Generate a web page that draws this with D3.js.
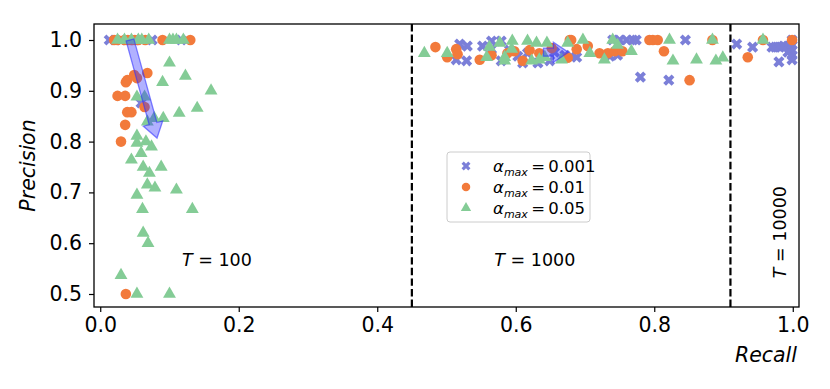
<!DOCTYPE html>
<html>
<head>
<meta charset="utf-8">
<script src="https://cdn.jsdelivr.net/npm/d3@7"></script>
<style>
  body { margin: 0; background: #fff; }
  svg text { font-family: "DejaVu Sans", sans-serif; fill: #000; }
</style>
</head>
<body>
<div id="chart"></div>
<script>
// recall / precision pairs per alpha_max
const blueX = [0.013,0.03,0.05,0.075,0.117,0.059,
  0.519,0.53,0.514,0.529,0.552,0.565,0.565,0.579,0.579,0.591,0.603,0.61,0.617,0.632,0.649,0.656,0.671,
  0.68,0.688,0.736,0.747,0.74,0.75,0.76,0.769,0.774,0.845,0.78,0.821,0.919,
  0.942,0.97,0.975,0.981,0.987,0.993,0.999,0.999,0.999,0.999,0.999,0.98,0.993];
const blueY = [1,1,1,1,1,0.876,
  0.992,0.988,0.961,0.959,0.988,0.998,0.982,0.998,0.959,0.98,0.968,0.955,0.974,0.955,0.959,0.976,0.97,
  0.968,0.966,0.968,0.97,1,1,1,1,1,1,0.927,0.921,0.992,
  0.986,0.986,0.986,0.986,0.988,0.988,1,0.99,0.98,0.97,0.961,0.957,0.976];

const orangeX = [0.02,0.025,0.035,0.04,0.045,0.05,0.055,0.065,0.09,0.13,
  0.039,0.049,0.068,0.053,0.037,0.025,0.036,0.064,0.039,0.045,0.036,0.03,0.037,
  0.484,0.501,0.514,0.516,0.548,0.565,0.588,0.598,0.61,0.62,0.634,0.652,0.678,0.675,
  0.68,0.688,0.704,0.721,0.733,0.743,0.754,0.793,0.798,0.805,0.814,0.884,0.851,
  0.935,0.957,0.999];
const orangeY = [1,1,1,1,1,1,1,1,1,1,
  0.921,0.931,0.935,0.925,0.917,0.89,0.89,0.868,0.858,0.858,0.833,0.8,0.5,
  0.986,0.966,0.982,0.972,0.961,0.97,0.974,0.978,0.959,0.98,0.974,0.984,1,0.965,
  1,0.982,0.988,0.974,0.974,0.978,0.978,1,1,1,0.978,1,0.921,
  0.966,1,1];

const greenX = [0.025,0.035,0.045,0.055,0.06,0.07,0.1,0.105,0.11,0.12,
  0.1,0.09,0.123,0.16,0.053,0.064,0.114,0.14,0.078,0.091,0.068,0.053,
  0.053,0.066,0.074,0.059,0.045,0.062,0.088,0.071,0.068,0.079,0.11,0.053,0.061,0.133,0.062,0.069,0.03,0.053,0.1,
  0.468,0.501,0.562,0.558,0.577,0.584,0.584,0.595,0.594,0.617,0.623,0.63,0.634,0.645,0.642,0.675,0.666,
  0.697,0.707,0.728,0.74,0.747,0.767,0.822,0.827,0.861,0.889,0.899,0.884,0.957];
const greenY = [1,1,1,1,1,1,1,1,1,1,
  0.955,0.917,0.929,0.9,0.888,0.888,0.856,0.866,0.846,0.846,0.839,0.811,
  0.797,0.8,0.79,0.777,0.764,0.75,0.75,0.738,0.715,0.709,0.705,0.695,0.667,0.667,0.62,0.6,0.537,0.5,0.5,
  0.974,0.974,0.986,0.966,0.994,0.966,0.959,0.998,0.982,0.998,0.959,0.994,0.961,0.994,0.966,0.994,0.961,
  1,0.974,0.961,1,0.99,0.978,1,0.959,0.961,0.959,0.965,1,1];

const seriesLabels = ["0.001", "0.01", "0.05"];
const xTicks = [0, 0.2, 0.4, 0.6, 0.8, 1.0];
const yTicks = [0.5, 0.6, 0.7, 0.8, 0.9, 1.0];
const splitLines = [0.45, 0.91];
// arrows: start and tip in data coords
const arrowFrom = [[0.043, 1.0], [0.64, 0.976]];
const arrowTo = [[0.082, 0.807], [0.676, 0.976]];
// T annotations: label, x, y, rotation
const notes = [["100", 0.118, 0.555, 0], ["1000", 0.569, 0.555, 0], ["10000", 0.99, 0.531, -90]];

const W = 830, H = 389;
const x = d3.scaleLinear().domain([-0.009, 1.009]).range([94, 799]);
const y = d3.scaleLinear().domain([0.4744, 1.0315]).range([307, 24]);

const svg = d3.select("#chart").append("svg")
  .attr("width", W).attr("height", H);

const colors = ["#7b7fd8", "#f27a3b", "#84cc96"];

// dashed separators
svg.selectAll(".split").data(splitLines).join("line")
  .attr("x1", d => x(d)).attr("x2", d => x(d))
  .attr("y1", y.range()[0]).attr("y2", y.range()[1])
  .attr("stroke", "#000").attr("stroke-width", 2.2)
  .attr("stroke-dasharray", "7.4 3.2");

const crossSym = d3.symbol().type(d3.symbolCross).size(78);
const circSym = d3.symbol().type(d3.symbolCircle).size(88);
const triSym = d3.symbol().type(d3.symbolTriangle).size(72);

function drawSeries(xs, ys, sym, color, rot) {
  svg.append("g").selectAll("path").data(xs.map((v, i) => [v, ys[i]])).join("path")
    .attr("d", sym)
    .attr("fill", color)
    .attr("transform", d => `translate(${x(d[0])},${y(d[1])}) rotate(${rot})`);
}
drawSeries(blueX, blueY, crossSym, colors[0], 45);
drawSeries(orangeX, orangeY, circSym, colors[1], 0);
drawSeries(greenX, greenY, triSym, colors[2], 0);

// arrows
function arrowPath(p0, p1, shaftW, headW, headL) {
  const dx = p1[0] - p0[0], dy = p1[1] - p0[1];
  const len = Math.hypot(dx, dy);
  const ux = dx / len, uy = dy / len, nx = -uy, ny = ux;
  const bx = p1[0] - ux * headL, by = p1[1] - uy * headL;
  const pts = [
    [p0[0] + nx * shaftW / 2, p0[1] + ny * shaftW / 2],
    [bx + nx * shaftW / 2, by + ny * shaftW / 2],
    [bx + nx * headW / 2, by + ny * headW / 2],
    p1,
    [bx - nx * headW / 2, by - ny * headW / 2],
    [bx - nx * shaftW / 2, by - ny * shaftW / 2],
    [p0[0] - nx * shaftW / 2, p0[1] - ny * shaftW / 2]
  ];
  return "M" + pts.map(p => p.join(",")).join("L") + "Z";
}
arrowFrom.forEach((a, i) => {
  const p0 = [x(a[0]), y(a[1])], p1 = [x(arrowTo[i][0]), y(arrowTo[i][1])];
  svg.append("path")
    .attr("d", arrowPath(p0, p1, 8, 20, 15))
    .attr("fill", "rgba(50,50,255,0.38)")
    .attr("stroke", "rgba(50,50,255,0.6)")
    .attr("stroke-width", 1.3);
});

// frame
svg.append("rect")
  .attr("x", x.range()[0]).attr("y", y.range()[1])
  .attr("width", x.range()[1] - x.range()[0])
  .attr("height", y.range()[0] - y.range()[1])
  .attr("fill", "none").attr("stroke", "#000").attr("stroke-width", 1.3);

// axes
const xAxis = svg.append("g")
  .attr("transform", `translate(0,${y.range()[0]})`)
  .call(d3.axisBottom(x).tickValues(xTicks).tickFormat(d3.format(".1f")).tickSize(5).tickPadding(5).tickSizeOuter(0));
const yAxis = svg.append("g")
  .attr("transform", `translate(${x.range()[0]},0)`)
  .call(d3.axisLeft(y).tickValues(yTicks).tickFormat(d3.format(".1f")).tickSize(5).tickPadding(7).tickSizeOuter(0));
[xAxis, yAxis].forEach(g => {
  g.select(".domain").remove();
  g.selectAll(".tick line").attr("stroke", "#000").attr("stroke-width", 1.2);
  g.selectAll(".tick text").style("font-size", "20.5px").attr("fill", "#000");
});

svg.append("text")
  .attr("transform", `translate(35,${(y.range()[0] + y.range()[1]) / 2}) rotate(-90)`)
  .attr("text-anchor", "middle")
  .style("font-size", "20.5px").style("font-style", "italic")
  .text("Precision");
svg.append("text")
  .attr("x", 797).attr("y", 362)
  .attr("text-anchor", "end")
  .style("font-size", "20.5px").style("font-style", "italic")
  .text("Recall");

// T annotations
notes.forEach(n => {
  const t = svg.append("text")
    .attr("transform", `translate(${x(n[1])},${y(n[2])}) rotate(${n[3]})`)
    .style("font-size", "17.5px");
  t.append("tspan").style("font-style", "italic").text("T");
  t.append("tspan").text(" = " + n[0]);
});

// legend
const lg = svg.append("g").attr("transform", "translate(447,152)");
lg.append("rect").attr("width", 143).attr("height", 70).attr("rx", 3)
  .attr("fill", "#fff").attr("fill-opacity", 0.8)
  .attr("stroke", "#ccc").attr("stroke-width", 1);
const legSyms = [crossSym, circSym, triSym];
seriesLabels.forEach((lab, i) => {
  const cy = 14 + i * 21;
  lg.append("path").attr("d", legSyms[i]).attr("fill", colors[i])
    .attr("transform", `translate(19,${cy}) rotate(${i === 0 ? 45 : 0}) scale(0.8)`);
  const t = lg.append("text").attr("x", 46).attr("y", cy + 6).style("font-size", "16.5px");
  t.append("tspan").style("font-style", "italic").text("α");
  t.append("tspan").style("font-style", "italic").style("font-size", "11px").attr("dy", 4).text("max");
  t.append("tspan").attr("dy", -4).text("\u2009=\u20090." + lab.slice(2));
});
</script>
</body>
</html>
